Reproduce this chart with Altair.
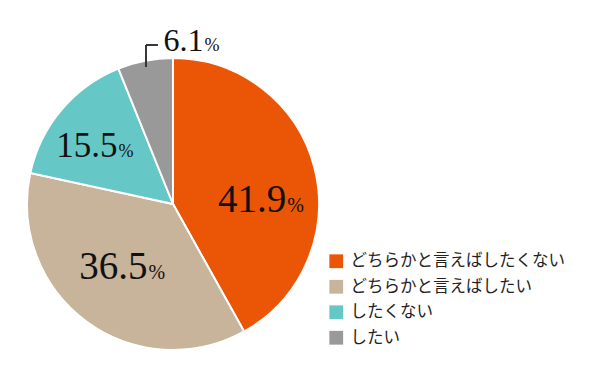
import altair as alt
import pandas as pd

categories = ["どちらかと言えばしたくない", "どちらかと言えばしたい", "したくない", "したい"]
values = [41.9, 36.5, 15.5, 6.1]
labels = ["41.9", "36.5", "15.5", "6.1"]
colors = ["#EA5506", "#C8B39B", "#65C8C6", "#999999"]

df = pd.DataFrame({
    "category": categories,
    "value": values,
    "label": labels,
    "order": list(range(len(categories))),
})

theta_scale = alt.Scale(domain=[0, 100])

arcs = alt.Chart(df).mark_arc(outerRadius=146, stroke="white", strokeWidth=2).encode(
    theta=alt.Theta("value:Q", stack=True, scale=theta_scale),
    order=alt.Order("order:Q"),
    color=alt.Color(
        "category:N",
        sort=categories,
        scale=alt.Scale(domain=categories, range=colors),
        legend=alt.Legend(
            title=None,
            orient="none",
            legendX=328,
            legendY=219,
            symbolType="square",
            symbolSize=190,
            symbolStrokeWidth=0,
            labelFont="Noto Sans CJK JP",
            labelFontSize=16.5,
            labelColor="#222222",
            labelOffset=6,
            labelLimit=400,
            rowPadding=8.5,
        ),
    ),
)

# label style per slice: (number font size, percent font size, radius, dx, dy)
label_style = {
    "41.9": (39, 20, 115, 2, 37),
    "36.5": (39, 20, 95, 31, -1),
    "15.5": (35, 18, 95, 17, 14),
    "6.1": (32, 18, 160, 61, 4),
}

base = alt.Chart(df).transform_window(
    cum="sum(value)", sort=[alt.SortField("order")]
).transform_calculate(mid="datum.cum - datum.value / 2")

layers = [arcs]
for lab, (fs, pfs, r, dx, dy) in label_style.items():
    sub = base.transform_filter(alt.datum.label == lab)
    num = sub.mark_text(
        radius=r, dx=dx, dy=dy, align="right", baseline="alphabetic",
        font="Liberation Serif", fontSize=fs, color="#111111",
    ).encode(
        theta=alt.Theta("mid:Q", stack=None, scale=theta_scale),
        text="label:N",
    )
    pct = sub.mark_text(
        radius=r, dx=dx + 1, dy=dy, align="left", baseline="alphabetic",
        font="Liberation Serif", fontSize=pfs, color="#111111",
    ).encode(
        theta=alt.Theta("mid:Q", stack=None, scale=theta_scale),
        text=alt.value("%"),
    )
    layers += [num, pct]

# leader line for the small slice
lead_v = alt.Chart(df).mark_rule(color="#333333", strokeWidth=1.2).encode(
    x=alt.value(146), y=alt.value(11), y2=alt.value(33)
)
lead_h = alt.Chart(df).mark_rule(color="#333333", strokeWidth=1.2).encode(
    x=alt.value(146), x2=alt.value(158), y=alt.value(11)
)
layers += [lead_v, lead_h]

chart = alt.layer(*layers).properties(
    width=346,
    height=340,
    padding={"left": 0, "top": 34, "right": 254, "bottom": 3},
    autosize=alt.AutoSizeParams(type="none"),
    background="white",
).configure_view(stroke=None)

chart.save("out.html", embed_options={"renderer": "svg", "actions": False})
